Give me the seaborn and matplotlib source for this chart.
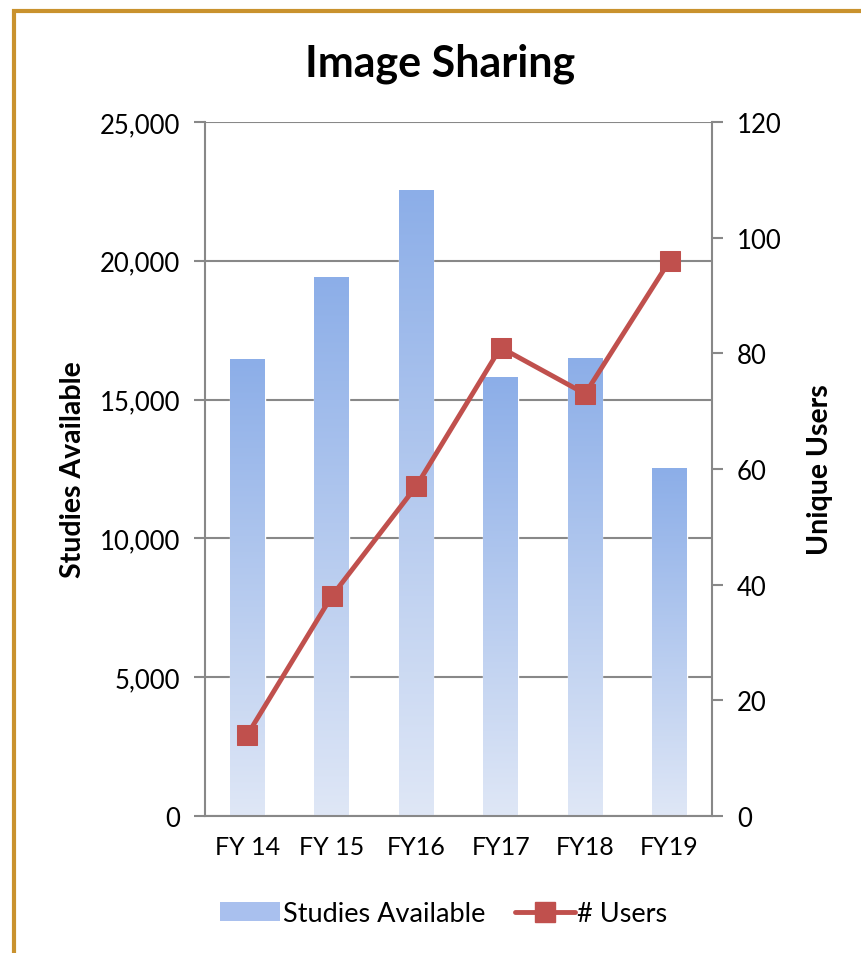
import numpy as np
import pandas as pd
import matplotlib
matplotlib.use("Agg")
import matplotlib.pyplot as plt
import seaborn as sns
from matplotlib.patches import Rectangle
from matplotlib.lines import Line2D
from matplotlib.colors import LinearSegmentedColormap

years = ["FY 14", "FY 15", "FY16", "FY17", "FY18", "FY19"]
studies = [16450, 19420, 22550, 15800, 16500, 12520]
users = [14, 38, 57, 81, 73, 96]

sns.set_theme(style="white")
plt.rcParams["font.family"] = ["Lato", "DejaVu Sans"]
plt.rcParams["text.color"] = "black"
plt.rcParams["axes.labelcolor"] = "black"
plt.rcParams["xtick.color"] = "black"
plt.rcParams["ytick.color"] = "black"

grad = LinearSegmentedColormap.from_list("g", ["#dfe7f6", "#8caee8"])
red = "#c0504d"
gray = "#888888"

fig = plt.figure(figsize=(8.62, 9.54), dpi=100)
ax = fig.add_axes([0.2378, 0.1436, 0.588, 0.7275])

df = pd.DataFrame({"year": years, "studies": studies})
sns.barplot(data=df, x="year", y="studies", ax=ax, width=0.41,
            color="#a9c0ee", saturation=1, zorder=2)

# vertical gradient per bar
img = np.linspace(0, 1, 256).reshape(-1, 1)
for p in ax.patches:
    x0, y0 = p.get_x(), p.get_y()
    w, h = p.get_width(), p.get_height()
    p.set_facecolor("none")
    im = ax.imshow(img, cmap=grad, aspect="auto", origin="lower",
                   extent=[x0, x0 + w, y0, y0 + h], zorder=2)
    im.set_clip_path(p)

ax.set_xlim(-0.5, 5.5)
ax.set_ylim(0, 25000)
ax.set_yticks(range(0, 25001, 5000))
ax.set_yticklabels([f"{v:,}" for v in range(0, 25001, 5000)])
ax.yaxis.grid(True, color=gray, lw=1.5, zorder=0)
ax.set_axisbelow(True)
ax.set_xticks(range(6))
ax.set_xticklabels(years)
ax.set_xticks(np.arange(-0.5, 6, 1), minor=True)
ax.tick_params(axis="x", which="major", length=0, pad=14, labelsize=18)
ax.tick_params(axis="x", which="minor", length=8, width=1.5, color=gray, direction="out")
ax.tick_params(axis="y", length=8, width=1.5, color=gray, direction="out",
               left=True, labelsize=18.5, pad=10)
for s in ["left", "bottom"]:
    ax.spines[s].set_color(gray)
    ax.spines[s].set_linewidth(1.5)
for s in ["top", "right"]:
    ax.spines[s].set_visible(False)
ax.set_xlabel("")
ax.set_ylabel("Studies Available", fontsize=20.5, fontweight="bold", labelpad=10)

ax2 = ax.twinx()
sns.lineplot(x=list(range(6)), y=users, ax=ax2, color=red, lw=3.5,
             marker="s", markersize=14, markeredgecolor=red, zorder=3)
ax2.set_ylim(0, 120)
ax2.set_yticks(range(0, 121, 20))
ax2.tick_params(axis="y", length=8, width=1.5, color=gray, direction="out",
                right=True, labelsize=18.5, pad=10)
for s in ["left", "top", "bottom"]:
    ax2.spines[s].set_visible(False)
ax2.spines["right"].set_color(gray)
ax2.spines["right"].set_linewidth(1.5)
ax2.set_ylabel("Unique Users", fontsize=20.5, fontweight="bold", labelpad=18)
ax2.grid(False)

fig.text(0.51, 0.933, "Image Sharing", ha="center", va="center",
         fontsize=31, fontweight="bold")

handles = [Rectangle((0, 0), 1, 1, facecolor="#a9c0ee", edgecolor="none"),
           Line2D([0], [0], color=red, lw=3.5, marker="s", markersize=14)]
fig.legend(handles, ["Studies Available", "# Users"], loc="center",
           bbox_to_anchor=(0.515, 0.041), ncol=2, frameon=False, fontsize=19.5,
           handlelength=2.2, handletextpad=0.1, columnspacing=1.1)

# gold frame (left and top edges visible)
fig.patches.append(Rectangle((14 / 862, -0.1), 2, 1.1 - 12 / 954,
                             transform=fig.transFigure, fill=False,
                             edgecolor="#c9922e", lw=3))

fig.savefig("out.png", dpi=100)
